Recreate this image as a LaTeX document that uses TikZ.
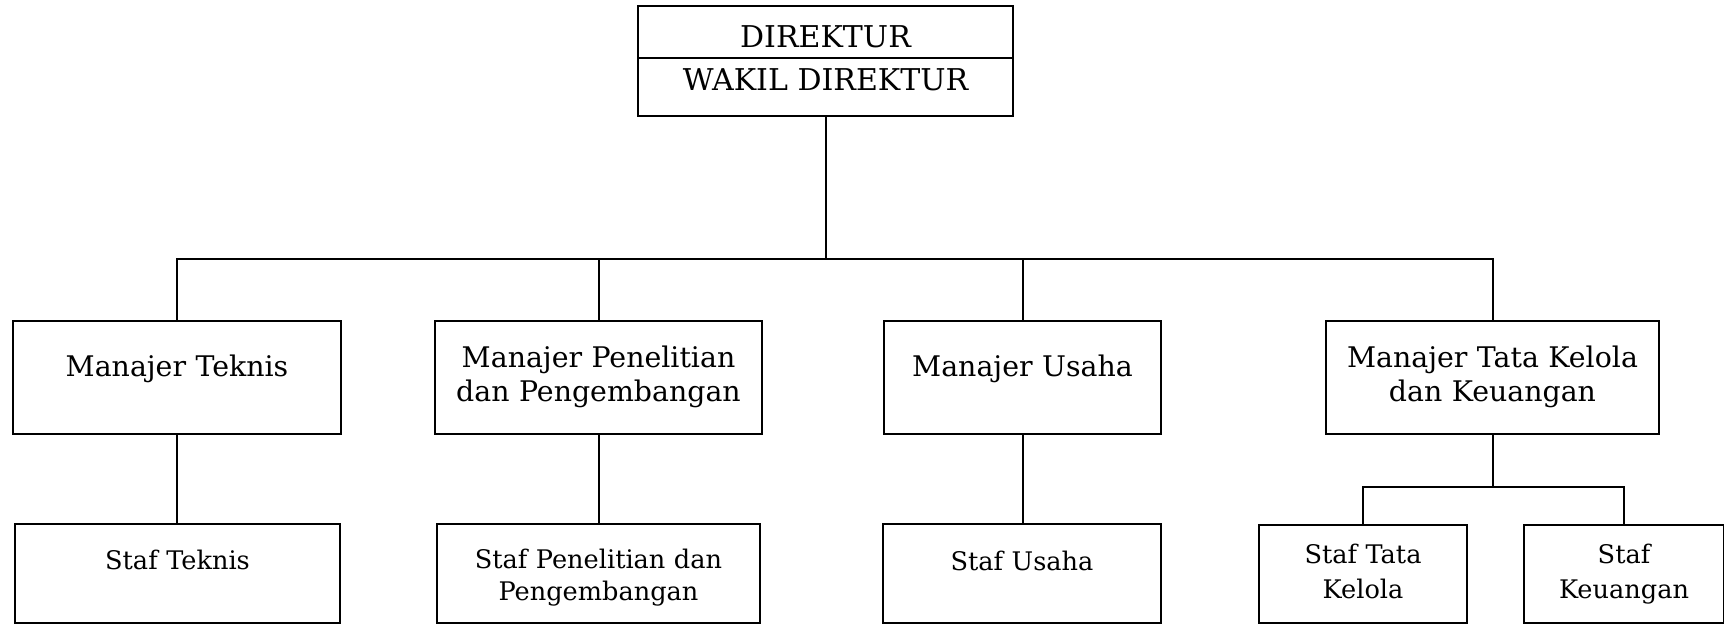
\documentclass[tikz,border=0pt]{standalone}
\usepackage{fontspec}
\setmainfont{DejaVu Serif}
\usetikzlibrary{shapes.multipart}
\tikzset{
    head box/.style = {
        draw,
        line width=1pt,
        rectangle split,
        rectangle split parts=2,
        minimum width=187.5pt,
        inner xsep=0pt,
        inner ysep=0pt,
        outer sep=0pt,
        font=\fontsize{15}{18}\selectfont,
        },
    manager box/.style = {
        draw,
        line width=1pt,
        align=center,
        inner sep=0pt,
        outer sep=0pt,
        font=\fontsize{14.2}{17}\selectfont,
        },
    staff box/.style = {
        draw,
        line width=1pt,
        align=center,
        inner sep=0pt,
        outer sep=0pt,
        font=\fontsize{12.8}{16}\selectfont,
        },
    org line/.style = {
        line width=1pt,
        },
}
\begin{document}
\begin{tikzpicture}[x=0.5pt, y=-0.5pt]
            \useasboundingbox (0,0) rectangle (1724,625);

            \node[head box, anchor=north] (dir) at (825.5,6)
                {\rule[-4.5pt]{0pt}{25pt}DIREKTUR\nodepart{two}\rule[-12pt]{0pt}{28pt}WAKIL DIREKTUR};

            \node[manager box, text width=164pt, text height=28pt, text depth=28.5pt] (mt) at (177,377.5) {Manajer Teknis};
            \node[manager box, text width=163.5pt, text height=23.25pt, text depth=33.25pt] (mp) at (598.5,377.5) {Manajer Penelitian\\dan Pengembangan};
            \node[manager box, text width=138.5pt, text height=28pt, text depth=28.5pt] (mu) at (1022.5,377.5) {Manajer Usaha};
            \node[manager box, text width=166.5pt, text height=23.25pt, text depth=33.25pt] (mk) at (1492.5,377.5) {Manajer Tata Kelola\\dan Keuangan};

            \node[staff box, text width=162.5pt, text height=22.5pt, text depth=27pt] (st) at (177.5,573.5) {Staf Teknis};
            \node[staff box, text width=161.5pt, text height=22pt, text depth=27.5pt] (sp) at (598.5,573.5) {Staf Penelitian dan\\Pengembangan};
            \node[staff box, text width=139pt, text height=23pt, text depth=26.5pt] (su) at (1022,573.5) {Staf Usaha};
            \node[staff box, text width=104pt, text height=19pt, text depth=30pt, font=\fontsize{12.8}{17.5}\selectfont] (stk) at (1363,574) {Staf Tata\\Kelola};
            \node[staff box, text width=100pt, text height=19pt, text depth=30pt, font=\fontsize{12.8}{17.5}\selectfont] (sk) at (1624,574) {Staf\\Keuangan};

            \coordinate (bus) at (825.5,259.5);
            \coordinate (kbus) at (1492.5,487);

            \draw[org line] (dir.south) -- (bus);
            \draw[org line] (mt.north) |- (mk.north |- bus) -- (mk.north);
            \draw[org line] (mp.north) -- (mp.north |- bus);
            \draw[org line] (mu.north) -- (mu.north |- bus);

            \draw[org line] (mt.south) -- (mt.south |- st.north);
            \draw[org line] (mp.south) -- (mp.south |- sp.north);
            \draw[org line] (mu.south) -- (mu.south |- su.north);
            \draw[org line] (mk.south) -- (kbus);
            \draw[org line] (stk.north) |- (sk.north |- kbus) -- (sk.north);
        \end{tikzpicture}
\end{document}
